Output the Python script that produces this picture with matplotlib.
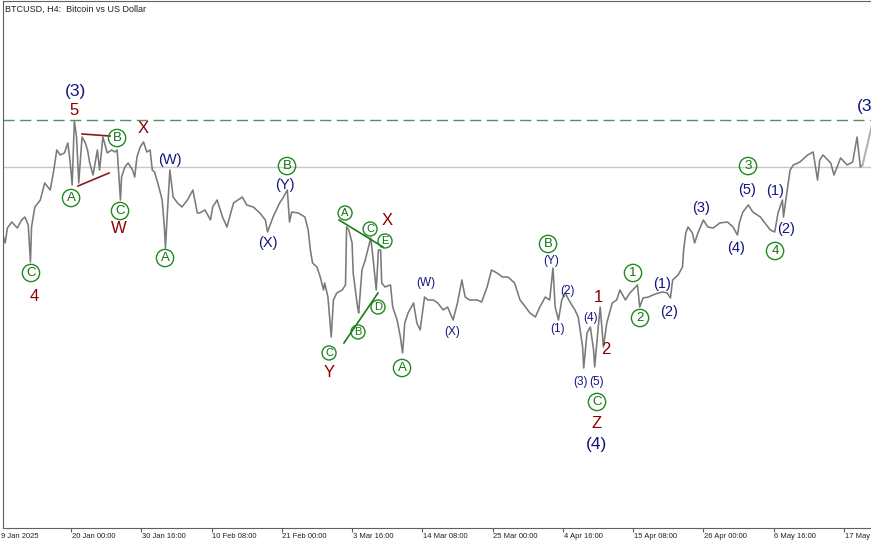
import numpy as np
import matplotlib
matplotlib.use("Agg")
import matplotlib.pyplot as plt
from matplotlib.transforms import blended_transform_factory

# BTCUSD H4, bar number counted from 9 Jan 2025 08:00, price
bars = [2, 4, 6, 10, 15, 19, 22, 25, 27, 28,
        31, 36, 40, 45, 48, 51, 54, 58, 61, 63,
        65, 67, 69, 71, 74, 77, 79, 81, 84, 88,
        90, 93, 97, 101, 104, 106, 109, 110, 113, 116,
        120, 122, 124, 127, 130, 133, 136, 138, 140, 143,
        147, 149, 150, 151, 154, 157, 161, 165, 170, 175,
        179, 181, 186, 191, 193, 197, 202, 206, 212, 220,
        224, 230, 236, 241, 243, 248, 254, 257, 261, 263,
        265, 271, 277, 280, 282, 284, 288, 291, 294, 295,
        298, 301, 303, 306, 311, 314, 315, 317, 320, 321,
        325, 326, 329, 332, 335, 337, 339, 342, 344, 346,
        347, 350, 355, 357, 361, 364, 366, 368, 371, 376,
        379, 382, 386, 389, 394, 398, 403, 407, 412, 416,
        420, 423, 427, 434, 438, 443, 447, 452, 457, 462,
        468, 473, 478, 482, 487, 491, 496, 500, 503, 505,
        508, 511, 514, 519, 523, 526, 530, 531, 534, 537,
        540, 541, 544, 546, 549, 552, 557, 561, 564, 569,
        573, 580, 582, 585, 590, 594, 599, 603, 607, 610,
        612, 617, 621, 622, 624, 626, 630, 632, 635, 640,
        644, 649, 655, 662, 667, 671, 673, 676, 681, 685,
        692, 696, 701, 705, 708, 712, 713, 716, 719, 722,
        728, 735, 740, 744, 746, 749, 756, 759, 765, 771,
        776, 780, 783, 785]

prices = [93290, 92160, 94270, 95120, 94270, 95400, 95820, 94700, 89480, 94410,
          97230, 98220, 100620, 99630, 102170, 105270, 104570, 104850, 106260, 103860,
          100340, 109360, 107100, 100620, 107100, 106260, 105270, 103440, 101750, 105270,
          102450, 107100, 104850, 105270, 104990, 105270, 98220, 101460, 102870, 103440,
          102450, 101460, 104280, 105690, 106400, 104990, 105270, 102450, 102170, 100620,
          98220, 94410, 91450, 94410, 102450, 98640, 97800, 97230, 98220, 99630,
          96390, 96390, 96810, 95400, 97230, 98220, 95820, 94410, 97800, 98640,
          97520, 97230, 96390, 95400, 93710, 95820, 97800, 98500, 99630, 95120,
          96530, 96390, 95820, 93990, 91170, 89340, 88770, 87360, 85530, 86520,
          84540, 78900, 84120, 85110, 85530, 86240, 94410, 93990, 92160, 87930,
          83130, 82290, 88350, 89760, 91590, 92860, 90180, 85530, 91170, 91170,
          86520, 85950, 86240, 83130, 81300, 78900, 76650, 80880, 82290, 83700,
          80880, 79890, 84540, 84120, 84120, 83700, 82710, 83130, 81300, 83700,
          86940, 84540, 84120, 84120, 83840, 85950, 88350, 87930, 87360, 87360,
          86520, 84120, 83130, 82290, 81720, 83130, 84540, 84120, 88630, 83130,
          81300, 84120, 85110, 83700, 82710, 81720, 77490, 74530, 79470, 80310,
          77070, 74670, 79890, 83130, 77490, 80880, 83700, 84120, 85530, 84120,
          85110, 86240, 83130, 84400, 84540, 84830, 85110, 85250, 85110, 84400,
          86940, 87650, 88770, 91170, 93570, 94410, 93570, 92160, 93570, 95400,
          94410, 94270, 94980, 95120, 94410, 93290, 95120, 96530, 97520, 96530,
          95820, 94980, 93990, 93710, 96390, 98220, 95820, 99210, 102450, 103160,
          103580, 104570, 104990, 101040, 103860, 104570, 103440, 101750, 104140, 103160,
          103580, 107100, 102870, 103160]

ath_level = 109500
last_level = 102870
projection_bars = [785, 796]
projection_prices = [103160, 110350]

tick_bars = [0, 64, 128, 192, 256, 320, 384, 448, 512, 576, 640, 704, 768]
tick_labels = ["9 Jan 2025", "20 Jan 00:00", "30 Jan 16:00", "10 Feb 08:00",
               "21 Feb 00:00", "3 Mar 16:00", "14 Mar 08:00", "25 Mar 00:00",
               "4 Apr 16:00", "15 Apr 08:00", "26 Apr 00:00", "6 May 16:00",
               "17 May"]

# wave labels: (text, bar, price)
red_labels = [("5", 66.7, 110910), ("X", 129.5, 108370), ("W", 107.7, 94270),
              ("4", 30.2, 84680), ("X", 351.8, 95260), ("Y", 299, 73830),
              ("1", 544.1, 84540), ("2", 551.3, 77210), ("Z", 543.1, 66640)]
navy_big = [("(3)", 67.6, 113450), ("(4)", 543.1, 63680), ("(3)", 789.5, 111470)]
navy_mid = [("(W)", 154.1, 103860), ("(Y)", 258.9, 100340), ("(X)", 243.4, 92160),
            ("(1)", 602.4, 86380), ("(2)", 608.7, 82430), ("(3)", 637.9, 97090),
            ("(4)", 669.8, 91450), ("(5)", 679.8, 99630), ("(1)", 705.3, 99490),
            ("(2)", 715.3, 94130)]
navy_small = [("(W)", 387.4, 86520), ("(X)", 411, 79610), ("(Y)", 501.2, 89620),
              ("(2)", 515.8, 85390), ("(1)", 507.6, 80030), ("(4)", 536.8, 81580),
              ("(3)", 527.7, 72560), ("(5)", 543.1, 72560)]
green_big = [("C", 27.5, 87930), ("A", 64, 98500), ("B", 105.9, 106960),
             ("C", 108.6, 96670), ("A", 149.6, 90040), ("B", 260.7, 103010),
             ("A", 365.5, 74530), ("B", 498.5, 92020), ("C", 543.1, 69740),
             ("1", 575.9, 87930), ("2", 582.3, 81580), ("3", 680.7, 103010),
             ("4", 705.3, 91030)]
green_small = [("A", 313.6, 96390), ("C", 336.4, 94130), ("E", 350, 92440),
               ("D", 343.6, 83130), ("B", 325.4, 79610), ("C", 299, 76650)]

# triangle boundaries: ((bar0, bar1), (price0, price1), colour)
trend_lines = [((74.0, 99.5), (107530, 107240), "#8b1a1a"),
               ((70.3, 98.6), (100190, 102030), "#8b1a1a"),
               ((308.1, 348.2), (95400, 91590), "#1d7a1d"),
               ((312.6, 343.6), (78060, 85110), "#1d7a1d")]

W, H = 871, 545
fig = plt.figure(figsize=(W / 100, H / 100), dpi=100)
ax = fig.add_axes([3 / W, 17 / H, 868 / W, 527 / H])
ax.set_xlim(2.0, 792.7)
ax.set_ylim(51970, 126280)

ax.axhline(ath_level, color="#5b8c5b", lw=1, ls=(0, (8, 4)), zorder=1)
ax.axhline(last_level, color="#c8c8c8", lw=1, zorder=1)
ax.plot(bars, prices, color="#7a7a7a", lw=1.15, zorder=2)
ax.plot(projection_bars, projection_prices, color="#b4b4b4", lw=1.5, zorder=2)

for (bx, py, c) in trend_lines:
    ax.plot(bx, py, color=c, lw=1.2, zorder=3)

font = ["Liberation Sans", "DejaVu Sans"]
for t, b, p in red_labels:
    ax.text(b, p, t, color="#8b0000", fontsize=12, ha="center", va="center", family=font)
for t, b, p in navy_big:
    ax.text(b, p, t, color="#141480", fontsize=12.5, ha="center", va="center", family=font)
for t, b, p in navy_mid:
    ax.text(b, p, t, color="#141480", fontsize=10.5, ha="center", va="center", family=font)
for t, b, p in navy_small:
    ax.text(b, p, t, color="#141480", fontsize=8.5, ha="center", va="center", family=font)
for t, b, p in green_big:
    ax.text(b, p, t, color="#137313", fontsize=9.5, ha="center", va="center", family=font,
            bbox=dict(boxstyle="circle,pad=0.2", fc="none", ec="#1d8a1d", lw=1))
for t, b, p in green_small:
    ax.text(b, p, t, color="#137313", fontsize=8, ha="center", va="center", family=font,
            bbox=dict(boxstyle="circle,pad=0.18", fc="none", ec="#1d8a1d", lw=1))

ax.text(0.002, 0.992, "BTCUSD, H4:  Bitcoin vs US Dollar", transform=ax.transAxes,
        fontsize=6.5, va="top", ha="left", color="#202020", family=font)

ax.set_xticks([b for b in tick_bars if b >= 2])
ax.set_xticklabels([])
ax.tick_params(axis="x", direction="out", length=3, width=0.8, color="#606060")
ax.set_yticks([])
trans = blended_transform_factory(ax.transData, ax.transAxes)
for b, lab in zip(tick_bars, tick_labels):
    ax.text(b + 0.6, -0.017, lab, transform=trans, fontsize=5.5, ha="left", va="center",
            color="#202020", clip_on=False, family=font)

for s in ["top", "left", "bottom"]:
    ax.spines[s].set_color("#606060")
    ax.spines[s].set_linewidth(0.8)
ax.spines["right"].set_visible(False)

fig.savefig("out.png", dpi=100)
